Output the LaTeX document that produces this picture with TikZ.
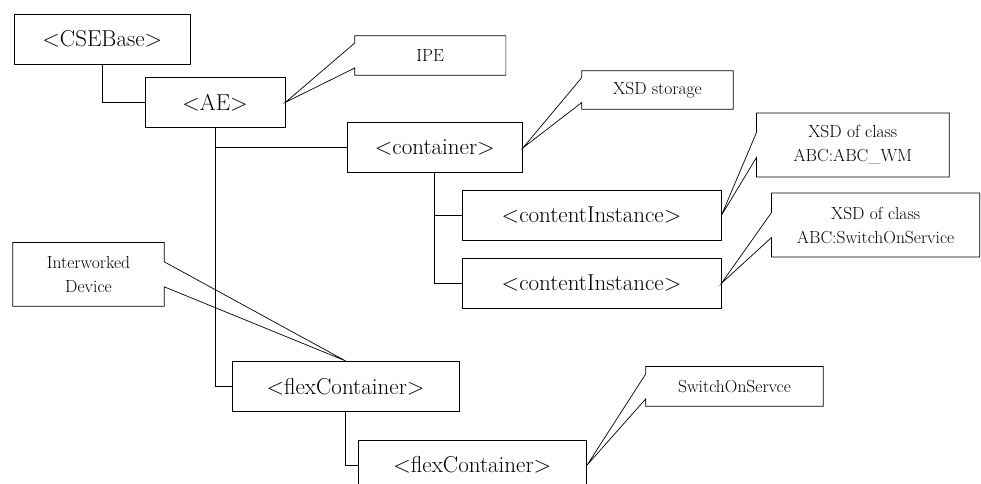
\documentclass[tikz,border=0pt]{standalone}
\usepackage{tikz}

% outline of a note, pointer on the left or right side
\newcommand{\noteleft}[2]{\draw[tagline] ([yshift=12.5pt]#1.west) |- (#1.north east) |- (#1.south west) -- ([yshift=-12.5pt]#1.west) -- (#2) -- cycle;}
\newcommand{\noteright}[2]{\draw[tagline] ([yshift=12.5pt]#1.east) |- (#1.north west) |- (#1.south east) -- ([yshift=-12.5pt]#1.east) -- (#2) -- cycle;}

\begin{document}
\begin{tikzpicture}[x=1pt,y=-1pt,
  res/.style={draw,line width=0.9pt,minimum height=50pt,inner sep=0pt,font=\fontsize{23}{27}\selectfont},
  tag/.style={inner sep=0pt,align=center,font=\fontsize{17.5}{24}\selectfont},
  tagline/.style={line width=0.7pt},
  link/.style={line width=1pt}]
\useasboundingbox (0,0) rectangle (981,483);

% resources
\node [res,minimum width=176.7pt] (cse) at (102.3,39) {<CSEBase>};
\node [res,minimum width=140pt] (ae) at (215,102.3) {<AE>};
\node [res,minimum width=175.7pt] (con) at (434.8,147.7) {<container>};
\node [res,minimum width=259pt] (ci1) at (591.5,215.3) {<contentInstance>};
\node [res,minimum width=259pt] (ci2) at (591.5,283.3) {<contentInstance>};
\node [res,minimum width=227pt] (fc1) at (345.5,386.3) {<flexContainer>};
\node [res,minimum width=228.7pt] (fc2) at (472.3,465) {<flexContainer>};

\draw[link] (cse.south) |- (ae.west);
\draw[link] (ae.south) |- (con.west);
\draw[link] (ae.south) |- (fc1.west);
\draw[link] (con.south) |- (ci1.west);
\draw[link] (con.south) |- (ci2.west);
\draw[link] (fc1.south) |- (fc2.west);

% notes
\node [tag,minimum width=150.7pt,minimum height=39pt] (ipe) at (430.3,55.5) {IPE};
\node [tag,minimum width=151pt,minimum height=38pt] (xsd) at (657.5,90) {XSD storage};
\node [tag,minimum width=192.3pt,minimum height=63.7pt] (wm) at (852.8,145) {XSD of class\\ABC:ABC\_WM};
\node [tag,minimum width=207.8pt,minimum height=63.7pt] (sos) at (875.6,225) {XSD of class\\ABC:SwitchOnService};
\node [tag,minimum width=151pt,minimum height=63.3pt] (iwd) at (88.5,274.3) {Interworked\\Device};
\node [tag,minimum width=177pt,minimum height=39.3pt] (svc) at (734.5,386.3) {SwitchOnServce};

\noteleft{ipe}{ae.east}
\noteleft{xsd}{con.east}
\noteleft{wm}{ci1.east}
\noteleft{sos}{ci2.east}
\noteright{iwd}{fc1.north}
\noteleft{svc}{fc2.east}
\end{tikzpicture}
\end{document}
